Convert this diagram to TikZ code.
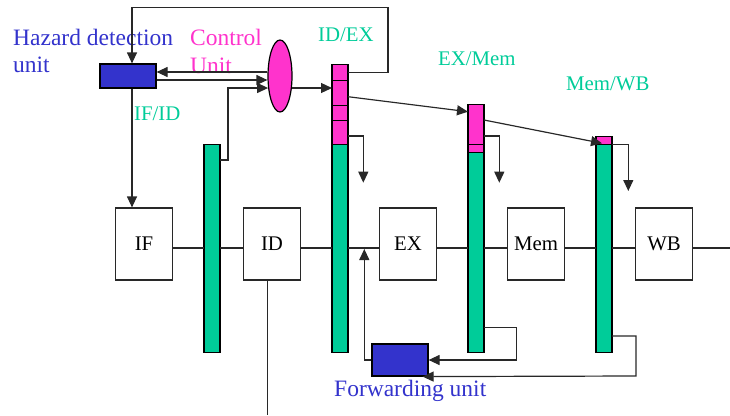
\documentclass[tikz,border=0pt]{standalone}
\usepackage{fontspec}
\setmainfont{Liberation Serif}
\usetikzlibrary{arrows.meta,calc,shapes.geometric}
\definecolor{pgreen}{RGB}{0,204,153}
\definecolor{ppink}{RGB}{255,51,204}
\definecolor{pblue}{RGB}{51,51,204}
\definecolor{lin}{RGB}{40,40,40}
\begin{document}
\begin{tikzpicture}[x=1pt,y=-1pt,
  ln/.style={draw=lin,line width=1.2pt},
  arr/.style={ln,-{Triangle[length=11pt,width=10pt]}},
  stage/.style={draw=lin,line width=1.2pt,fill=white,minimum width=57pt,minimum height=72pt,inner sep=0pt,font=\fontsize{20.8}{22}\selectfont},
  cell/.style={draw=black,line width=1.1pt,minimum width=16pt,inner sep=0pt,outer sep=0pt},
  gcell/.style={cell,fill=pgreen},
  pcell/.style={cell,fill=ppink},
  unitbox/.style={draw=black,line width=1.2pt,fill=pblue,minimum width=56pt,inner sep=0pt},
  lbl/.style={anchor=base west,inner sep=0pt,font=\fontsize{23.5}{26}\selectfont},
  slbl/.style={anchor=base west,inner sep=0pt,font=\fontsize{20.8}{22}\selectfont,text=pgreen}
]
\useasboundingbox (0,0) rectangle (730,415);
\coordinate (rowy) at (0,248);
\coordinate (hx) at (132,0);
\coordinate (idx) at (267.7,0);

% units
\node[unitbox,minimum height=24pt] (haz) at (128,76) {};
\node[draw=black,line width=1.2pt,fill=ppink,ellipse,minimum width=24pt,minimum height=72pt,inner sep=0pt] (cu) at (280,76) {};
\node[unitbox,minimum height=32pt] (fwd) at (400,360) {};

% stages
\node[stage] (IF) at (144,244) {IF};
\node[stage] (ID) at (272,244) {ID};
\node[stage] (EX) at (408,244) {EX};
\node[stage] (Mem) at (536,244) {Mem};
\node[stage] (WB) at (664,244) {WB};

% pipeline registers
\node[gcell,minimum height=208pt] (ifid) at (212,248.3) {};
\node[pcell,minimum height=16pt] (idex1) at (340,72.3) {};
\node[pcell,minimum height=25pt] (idex2) at (340,92.8) {};
\node[pcell,minimum height=15pt] (idex3) at (340,112.8) {};
\node[pcell,minimum height=24pt] (idex4) at (340,132.3) {};
\node[gcell,minimum height=208pt] (idexg) at (340,248.3) {};
\node[pcell,minimum height=40pt] (exmem1) at (476,124.3) {};
\node[pcell,minimum height=8pt] (exmem2) at (476,148.3) {};
\node[gcell,minimum height=200pt] (exmemg) at (476,252.3) {};
\node[pcell,minimum height=7.6pt] (memwb1) at (604,140.5) {};
\node[gcell,minimum height=208pt] (memwbg) at (604,248.3) {};

% labels
\node[lbl,text=pblue] (hazl1) at (13,45) {Hazard detection};
\node[lbl,text=pblue] (hazl2) at (13,72.7) {unit};
\node[lbl,text=ppink] (cul1) at (190,45) {Control};
\node[lbl,text=ppink] (cul2) at (190,73) {Unit};
\node[slbl] (ifidl) at (134,120.5) {IF/ID};
\node[slbl] (idexl) at (318,41.7) {ID/EX};
\node[slbl] (exmeml) at (438,65.7) {EX/Mem};
\node[slbl] (memwbl) at (566,90) {Mem/WB};
\node[lbl,text=pblue] (fwdl) at (334,396) {Forwarding unit};

% pipeline row
\draw[ln] (IF.east |- rowy) -- (ifid.west |- rowy);
\draw[ln] (ifid.east |- rowy) -- (ID.west |- rowy);
\draw[ln] (ID.east |- rowy) -- (idexg.west |- rowy);
\draw[ln] (idexg.east |- rowy) -- (EX.west |- rowy);
\draw[ln] (EX.east |- rowy) -- (exmemg.west |- rowy);
\draw[ln] (exmemg.east |- rowy) -- (Mem.west |- rowy);
\draw[ln] (Mem.east |- rowy) -- (memwbg.west |- rowy);
\draw[ln] (memwbg.east |- rowy) -- (WB.west |- rowy);
\draw[ln] (WB.east |- rowy) -- (730,248);
\draw[ln] (ID.south -| idx) -- (idx |- 0,415);

% hazard / control
\draw[arr] (idex1.east) -| (388,7.3) -| (haz.north -| hx);
\draw[arr] (haz.south -| hx) -- (IF.north -| hx);
\draw[arr] ($(cu.west)+(0,-4)$) -- ($(haz.east)+(0,-4)$);
\draw[arr] ($(haz.east)+(0,4)$) -- ($(cu.west)+(0,4)$);
\coordinate (cuW) at ($(cu.west)+(0.7,12)$);
\coordinate (cuE) at ($(cu.east)+(-0.7,12)$);
\draw[arr] (ifid.east |- 0,160) -- ++(8,0) |- (cuW);
\draw[arr] (cuE) -- (cuE -| idex2.west);

% register to register
\draw[arr] (idex2.east |- 0,96.7) -- (exmem1.west |- 0,111.7);
\draw[arr] (exmem1.east |- 0,120) -- ($(memwb1.north west)+(6,6.6)$);
\draw[arr] (idex4.east |- 0,136) -| (363.3,182.7);
\draw[arr] (exmem1.east |- 0,136) -| (499.3,182.7);
\draw[arr] (memwbg.north east) -| (628.3,191);

% forwarding
\draw[arr] (fwd.west) -| (364.3,249);
\draw[arr] (exmemg.east |- 0,327.7) -| (516.3,360) -- (fwd.east);
\draw[arr] (memwbg.east |- 0,336) -| (636,376) -- ($(fwd.south east)+(-6,0)$);
\end{tikzpicture}
\end{document}
